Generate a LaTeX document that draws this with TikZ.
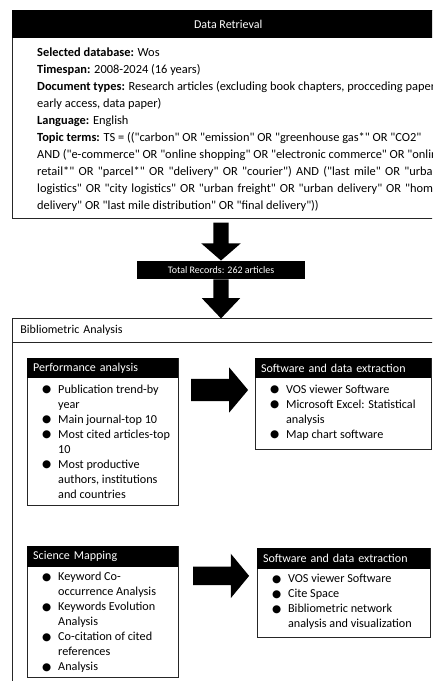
\documentclass[tikz,border=0pt]{standalone}
\usepackage{fontspec}
\setmainfont{Carlito}[Ligatures=TeXOff]
\newfontfamily\dotfont{DejaVu Sans}
\usetikzlibrary{positioning,shapes.arrows,calc}

% bullet list helpers
\newcommand{\itm}{\makebox[16pt][l]{\raisebox{0.2pt}{\dotfont\fontsize{10.5}{10}\selectfont ●}}}
\newcommand{\itc}{\hspace*{16pt}}

\tikzset{
  frame/.style={draw=black!85,line width=0.9pt,fill=white,anchor=north west,inner sep=0pt},
  band/.style={fill=black,text=white,anchor=north west,inner sep=0pt,
               font=\fontsize{12}{14}\selectfont},
  lefthead/.style={band,align=left,inner xsep=6pt},
  body/.style={anchor=north west,inner sep=0pt,align=left,font=\fontsize{12.4}{17}\selectfont},
  items/.style={anchor=north west,inner sep=0pt,align=left,font=\fontsize{12.2}{15}\selectfont},
  blockarrow/.style={single arrow,fill=black,inner sep=0pt,single arrow head indent=0pt},
  downarrow/.style={blockarrow,shape border rotate=270,inner xsep=7.5pt},
  rightarrow/.style={blockarrow,shape border rotate=0}
}

\begin{document}
\begin{tikzpicture}[x=1pt,y=-1pt]
  \path[use as bounding box] (0,0) rectangle (432,681);
  \clip (0,0) rectangle (432,681);

  % data retrieval
  \node[frame,minimum width=432pt,minimum height=208pt] (retr) at (12,10) {};
  \node[band,minimum width=432pt,minimum height=28pt] (retrhead) at (retr.north west) {Data Retrieval};
  \node[body] (retrtext) at (37,47.5) {%
    \textbf{Selected database:} Wos\\
    \textbf{Timespan:} 2008-2024 (16 years)\\
    \textbf{Document types:} Research articles (excluding book chapters, procceding papers,\\
    early access, data paper)\\
    \textbf{Language:} English\\
    \textbf{Topic terms:} TS = (("carbon" OR "emission" OR "greenhouse gas*" OR "CO2"\\
    AND ("e-commerce" OR "online shopping" OR "electronic commerce" OR "online\\
    \makebox[402pt][s]{retail*" OR "parcel*" OR "delivery" OR "courier") AND ("last mile" OR "urban}\\
    \makebox[402pt][s]{logistics" OR "city logistics" OR "urban freight" OR "urban delivery" OR "home}\\
    delivery" OR "last mile distribution" OR "final delivery"))};

  % total records
  \node[band,anchor=center,minimum width=168pt,minimum height=18pt,
        font=\fontsize{10}{12}\selectfont] (total) at (221,270) {Total Records: 262 articles};
  \node[downarrow,minimum height=38pt,single arrow head extend=12pt,
        single arrow tip angle=98,anchor=tip] (arr1) at (total.north) {};
  \node[downarrow,minimum height=39pt,single arrow head extend=11.5pt,
        single arrow tip angle=87,anchor=tail] (arr2) at (total.south) {};

  % bibliometric analysis
  \node[frame,minimum width=460pt,minimum height=420pt] (biblio) at (12,318) {};
  \node[frame,minimum height=24pt,text width=444pt,inner xsep=8pt,align=left,
        font=\fontsize{12}{14}\selectfont] (bibliohead) at (biblio.north west) {Bibliometric Analysis};

  % performance analysis
  \node[frame,minimum width=151pt,minimum height=147pt] (perf) at (27,358) {};
  \node[lefthead,minimum height=20pt,text width=139pt] (perfhead) at (perf.north west) {Performance analysis};
  \node[items,below right=6pt and 15pt of perfhead.south west] (perfitems) {%
    \itm Publication trend-by\\
    \itc year\\
    \itm Main journal-top 10\\
    \itm Most cited articles-top\\
    \itc 10\\
    \itm Most productive\\
    \itc authors, institutions\\
    \itc and countries};

  \node[frame,minimum width=176pt,minimum height=91pt,right=76pt of perf.north east,
        anchor=north west] (soft1) {};
  \node[lefthead,minimum height=20pt,text width=164pt] (soft1head) at (soft1.north west) {Software and data extraction};
  \node[items,below right=6pt and 15pt of soft1head.south west] (soft1items) {%
    \itm VOS viewer Software\\
    \itm Microsoft Excel: Statistical\\
    \itc analysis\\
    \itm Map chart software};

  \node[rightarrow,minimum height=57pt,inner ysep=11pt,single arrow head extend=11.5pt,
        single arrow tip angle=100,anchor=tail] (arrR1) at ($(perf.north east)+(12,32)$) {};

  % science mapping
  \node[frame,minimum width=151pt,minimum height=131pt,below=40pt of perf.south west,
        anchor=north west] (sci) {};
  \node[lefthead,minimum height=21pt,text width=139pt] (scihead) at (sci.north west) {Science Mapping};
  \node[items,below right=5pt and 15pt of scihead.south west] (sciitems) {%
    \itm Keyword Co-\\
    \itc occurrence Analysis\\
    \itm Keywords Evolution\\
    \itc Analysis\\
    \itm Co-citation of cited\\
    \itc references\\
    \itm Analysis};

  \node[frame,minimum width=173pt,minimum height=89pt,right=78pt of sci.north east,
        anchor=north west,yshift=-2pt] (soft2) {};
  \node[lefthead,minimum height=21pt,text width=161pt] (soft2head) at (soft2.north west) {Software and data extraction};
  \node[items,below right=5pt and 15pt of soft2head.south west] (soft2items) {%
    \itm VOS viewer Software\\
    \itm Cite Space\\
    \itm Bibliometric network\\
    \itc analysis and visualization};

  \node[rightarrow,minimum height=56pt,inner ysep=9pt,single arrow head extend=13pt,
        single arrow tip angle=101,anchor=tail] (arrR2) at ($(sci.north east)+(14,30)$) {};
\end{tikzpicture}
\end{document}
